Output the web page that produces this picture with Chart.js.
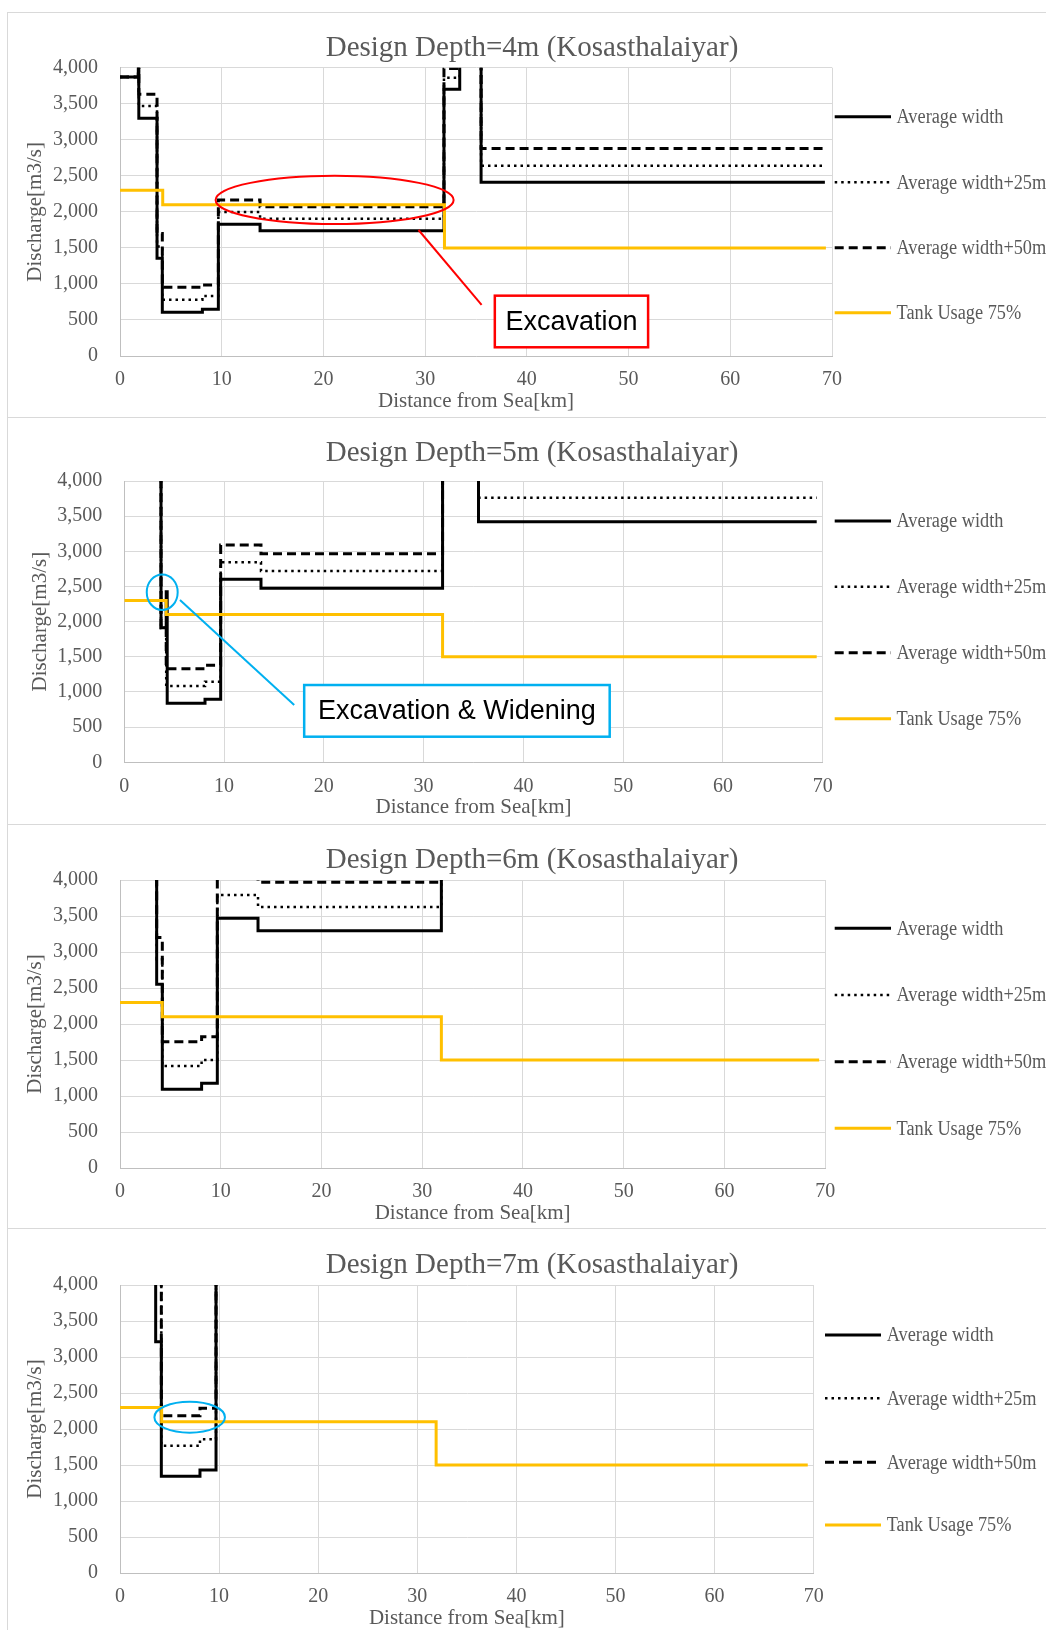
<!DOCTYPE html>
<html>
<head>
<meta charset="utf-8">
<script src="https://cdn.jsdelivr.net/npm/chart.js@4.4.0/dist/chart.umd.min.js"></script>
<style>
  html, body { margin: 0; padding: 0; background: #fff; }
  body { width: 1046px; height: 1630px; position: relative; overflow: hidden; }
  .panel { position: absolute; left: 7px; width: 1100px; border: 1px solid #d9d9d9; box-sizing: border-box; }
  canvas { position: absolute; left: 0; }
</style>
</head>
<body>
<div class="panel" style="top:12px;height:406px"></div>
<div class="panel" style="top:417px;height:408px"></div>
<div class="panel" style="top:824px;height:405px"></div>
<div class="panel" style="top:1228px;height:420px"></div>
<script>
// Tank usage 75% - same in every case
const tankKm = [0, 4.2, 31.9, 69.4]
const tankQ = [2300, 2100, 1500, 1500]

// Design depth 4m : breakpoints (km) and discharge from that point on
const km4 = [0, 1.8, 1.85, 3.64, 4.16, 8.1, 9.67, 13.77, 31.85, 33.4, 35.5, 69.3]
const avg4 = [3870, 4150, 3300, 1355, 606, 648, 1827, 1739, 3700, 4500, 2410, 2410]
const avg25_4 = [3870, 4150, 3470, 1520, 781, 832, 1998, 1905, 3860, 4500, 2640, 2640]
const avg50_4 = [3870, 4150, 3630, 1700, 953, 985, 2164, 2071, 3990, 4500, 2880, 2880]

// Design depth 5m
const km5 = [0, 3.68, 4.2, 4.3, 8.09, 9.66, 13.7, 31.9, 35.5, 69.4]
const avg5 = [4500, 1914, 2426, 839, 896, 2602, 2474, 4500, 3421, 3421]
const avg25_5 = [4500, 1914, 1085, 1085, 1146, 2844, 2720, 4500, 3762, 3762]
const avg50_5 = [4500, 1914, 1331, 1331, 1379, 3090, 2966, 4500, 4150, 4150]

// Design depth 6m
const km6 = [0, 3.64, 4.2, 8.1, 9.66, 13.7, 31.9, 69.4]
const avg6 = [4500, 2551, 1093, 1176, 3468, 3296, 4500, 4500]
const avg25_6 = [4500, 2900, 1417, 1500, 3792, 3625, 4500, 4500]
const avg50_6 = [4500, 3200, 1755, 1824, 4300, 3968, 4500, 4500]

// Design depth 7m
const km7 = [0, 3.6, 4.17, 8.07, 9.69, 69.4]
const avg7 = [4500, 3213, 1343, 1431, 4500, 4500]
const avg25_7 = [4500, 4500, 1768, 1857, 4500, 4500]
const avg50_7 = [4500, 4500, 2185, 2287, 4500, 4500]

const xTicks = [0, 70, 10]      // min, max, step
const yTicks = [0, 4000, 500]
const seriesNames = ['Average width', 'Average width+25m', 'Average width+50m', 'Tank Usage 75%']

const SERIF = "'Liberation Serif', 'Times New Roman', serif"
const SANS = "'Liberation Sans', Arial, sans-serif"
const GREY = '#595959'
const RED = '#ff0000'
const BLUE = '#00b0f0'
const W = 1046

const panels = [
  { depth: 4, km: km4, avg: avg4, avg25: avg25_4, avg50: avg50_4,
    top: 12, bottom: 417, plot: { l: 120, r: 832, t: 67.7, b: 356 }, titleY: 48.3, yTitleX: 35,
    legendX: [834.7, 891, 896.5], legendY: [116.7, 182.3, 247.7, 312.7],
    notes: [
      { type: 'ellipse', x: 21.1, y: 2165, rx: 11.7, ry: 335, color: RED },
      { type: 'line', from: [29.35, 1748], to: [35.55, 708], color: RED },
      { type: 'box', x1: 36.85, x2: 51.92, y1: 837, y2: 121, text: 'Excavation', color: RED }
    ] },
  { depth: 5, km: km5, avg: avg5, avg25: avg25_5, avg50: avg50_5,
    top: 417, bottom: 824, plot: { l: 124.3, r: 822.7, t: 481, b: 762.3 }, titleY: 453.3, yTitleX: 40.8,
    legendX: [834.7, 891, 896.5], legendY: [521, 586.7, 652.7, 718.7],
    notes: [
      { type: 'ellipse', x: 3.8, y: 2419, rx: 1.55, ry: 253, color: BLUE },
      { type: 'line', from: [5.58, 2308], to: [17.03, 815], color: BLUE },
      { type: 'box', x1: 18.03, x2: 48.65, y1: 1099, y2: 364, text: 'Excavation & Widening', color: BLUE }
    ] },
  { depth: 6, km: km6, avg: avg6, avg25: avg25_6, avg50: avg50_6,
    top: 824, bottom: 1228, plot: { l: 120, r: 825.2, t: 880, b: 1168 }, titleY: 860, yTitleX: 35.5,
    legendX: [834.7, 891, 896.5], legendY: [928.3, 995, 1061.7, 1128.3],
    notes: [] },
  { depth: 7, km: km7, avg: avg7, avg25: avg25_7, avg50: avg50_7,
    top: 1228, bottom: 1630, plot: { l: 120, r: 813.7, t: 1285, b: 1573 }, titleY: 1265, yTitleX: 35.5,
    legendX: [825, 881, 886.7], legendY: [1335, 1398.3, 1462.3, 1525],
    notes: [
      { type: 'ellipse', x: 7.03, y: 2164, rx: 3.56, ry: 215, color: BLUE }
    ] }
]

function points(xs, ys) {
  return xs.map((x, i) => ({ x: x, y: ys[i] }))
}

function decor(p) {
  const off = p.top
  return {
    id: 'decor',
    afterDatasetsDraw(chart) {
      const { ctx, scales: { x, y } } = chart
      ctx.save()
      p.notes.forEach(n => {
        ctx.strokeStyle = n.color
        ctx.lineWidth = 2
        if (n.type === 'ellipse') {
          const cx = x.getPixelForValue(n.x), cy = y.getPixelForValue(n.y)
          const rx = x.getPixelForValue(n.x + n.rx) - cx
          const ry = cy - y.getPixelForValue(n.y + n.ry)
          ctx.beginPath()
          ctx.ellipse(cx, cy, rx, ry, 0, 0, Math.PI * 2)
          ctx.stroke()
        } else if (n.type === 'line') {
          ctx.beginPath()
          ctx.moveTo(x.getPixelForValue(n.from[0]), y.getPixelForValue(n.from[1]))
          ctx.lineTo(x.getPixelForValue(n.to[0]), y.getPixelForValue(n.to[1]))
          ctx.stroke()
        } else if (n.type === 'box') {
          const x1 = x.getPixelForValue(n.x1), x2 = x.getPixelForValue(n.x2)
          const y1 = y.getPixelForValue(n.y1), y2 = y.getPixelForValue(n.y2)
          ctx.fillStyle = '#fff'
          ctx.fillRect(x1, y1, x2 - x1, y2 - y1)
          ctx.lineWidth = 2.5
          ctx.strokeRect(x1, y1, x2 - x1, y2 - y1)
          ctx.fillStyle = '#000'
          ctx.font = '27px ' + SANS
          ctx.textAlign = 'center'
          ctx.textBaseline = 'middle'
          ctx.fillText(n.text, (x1 + x2) / 2, (y1 + y2) / 2 + 1)
        }
      })
      ctx.restore()
    },
    afterDraw(chart) {
      const ctx = chart.ctx
      const area = chart.chartArea
      ctx.save()
      ctx.fillStyle = GREY
      ctx.textBaseline = 'middle'
      ctx.textAlign = 'center'
      // chart title
      ctx.font = '29px ' + SERIF
      ctx.fillText('Design Depth=' + p.depth + 'm (Kosasthalaiyar)', 532, p.titleY - off)
      // axis titles
      ctx.font = '21px ' + SERIF
      ctx.fillText('Distance from Sea[km]', (area.left + area.right) / 2, area.bottom + 45.5)
      ctx.save()
      ctx.translate(p.yTitleX, (area.top + area.bottom) / 2)
      ctx.rotate(-Math.PI / 2)
      ctx.fillText('Discharge[m3/s]', 0, 0)
      ctx.restore()
      // legend
      ctx.font = '20px ' + SERIF
      ctx.textAlign = 'left'
      chart.data.datasets.forEach((ds, i) => {
        const ly = p.legendY[i] - off
        ctx.beginPath()
        ctx.strokeStyle = ds.borderColor
        ctx.lineWidth = ds.borderWidth
        ctx.setLineDash(ds.borderDash || [])
        ctx.moveTo(p.legendX[0], ly)
        ctx.lineTo(p.legendX[1], ly)
        ctx.stroke()
        ctx.setLineDash([])
        ctx.fillStyle = GREY
        // the original legend type is a little condensed
        ctx.save()
        ctx.translate(p.legendX[2], ly + 1)
        ctx.scale(0.915, 1)
        ctx.fillText(ds.label, 0, 0)
        ctx.restore()
      })
      ctx.restore()
    }
  }
}

panels.forEach(p => {
  const canvas = document.createElement('canvas')
  canvas.width = W
  canvas.height = p.bottom - p.top
  canvas.style.top = p.top + 'px'
  canvas.style.width = W + 'px'
  canvas.style.height = (p.bottom - p.top) + 'px'
  document.body.appendChild(canvas)

  const tickFont = { family: SERIF, size: 20 }
  new Chart(canvas, {
    type: 'line',
    data: {
      datasets: [
        { label: seriesNames[0], data: points(p.km, p.avg), borderColor: '#000000', borderWidth: 3, order: 1 },
        { label: seriesNames[1], data: points(p.km, p.avg25), borderColor: '#000000', borderWidth: 2.5, borderDash: [2.5, 4], order: 2 },
        { label: seriesNames[2], data: points(p.km, p.avg50), borderColor: '#000000', borderWidth: 3, borderDash: [9, 5], order: 3 },
        { label: seriesNames[3], data: points(tankKm, tankQ), borderColor: '#ffc000', borderWidth: 3, order: 0 }
      ]
    },
    options: {
      responsive: false,
      animation: false,
      devicePixelRatio: 1,
      datasets: { line: { stepped: true, pointRadius: 0, tension: 0, fill: false } },
      layout: { padding: { left: 0, top: p.plot.t - p.top, right: W - p.plot.r, bottom: 0 } },
      plugins: { legend: { display: false }, title: { display: false }, tooltip: { enabled: false } },
      scales: {
        x: {
          type: 'linear', min: xTicks[0], max: xTicks[1],
          ticks: { stepSize: xTicks[2], padding: 12, color: GREY, font: tickFont, maxRotation: 0, autoSkip: false },
          grid: { color: '#d9d9d9', drawTicks: false },
          border: { color: '#bfbfbf' },
          afterFit: s => { s.height = p.bottom - p.plot.b }
        },
        y: {
          type: 'linear', min: yTicks[0], max: yTicks[1],
          ticks: { stepSize: yTicks[2], padding: 22, color: GREY, font: tickFont,
                   callback: v => v.toLocaleString('en-US') },
          grid: { color: '#d9d9d9', drawTicks: false },
          border: { color: '#bfbfbf' },
          afterFit: s => { s.width = p.plot.l }
        }
      }
    },
    plugins: [decor(p)]
  })
})
</script>
</body>
</html>
